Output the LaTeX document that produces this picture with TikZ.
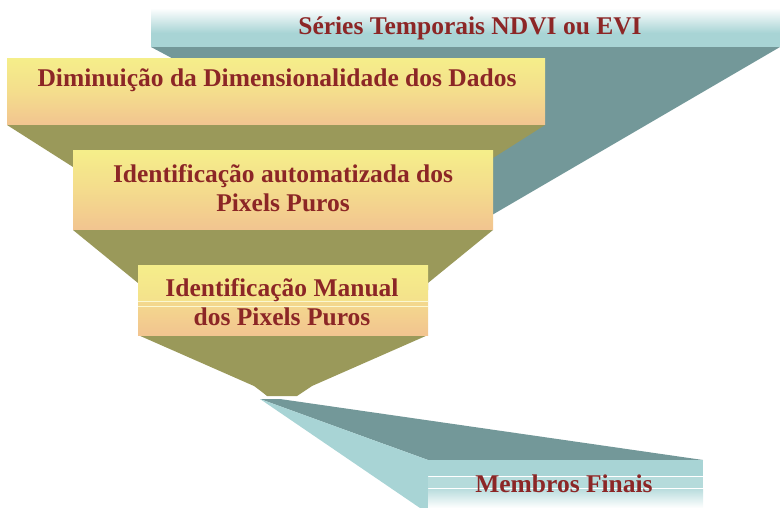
\documentclass[tikz,border=0pt]{standalone}
\usepackage{fontspec}
\setmainfont{Liberation Serif}
\definecolor{tealD}{HTML}{739899}
\definecolor{tealL}{HTML}{A8D4D5}
\definecolor{olive}{HTML}{9A995A}
\definecolor{yel}{HTML}{F5EE8A}
\definecolor{peach}{HTML}{F2C490}
\definecolor{txt}{HTML}{8C2626}
\tikzset{
  lbl/.style={text=txt, font=\fontsize{25.5}{28.5}\selectfont\bfseries, align=center, inner sep=0pt},
}
\begin{document}
\begin{tikzpicture}[x=1pt,y=-1pt]
\useasboundingbox (0,0) rectangle (780,508);
% top teal funnel
\fill[tealD] (151,47) -- (780,47) -- (480,222) -- cycle;
\shade[top color=white, bottom color=tealL] (151,8) rectangle (780,33);
\fill[tealL] (151,33) rectangle (780,47);
\node[lbl] (series) at (470,28) {Séries Temporais NDVI ou EVI};
% olive funnels
\fill[olive] (7,125) -- (545,125) -- (493,158) -- (493,180) -- (73,180) -- (73,167) -- cycle;
\fill[olive] (73,230) -- (493,230) -- (428,283) -- (428,290) -- (138,290) -- (138,283) -- cycle;
\fill[olive] (138,335) -- (428,335) -- (312,386) -- (300,394) -- (297,396) -- (267,396) -- (262,392) -- (254,386) -- cycle;
% box 1
\shade[top color=yel, bottom color=peach, middle color=yel!60!peach] (7,59) rectangle (545,125);
\node[lbl] (dimin) at (277,80) {Diminuição da Dimensionalidade dos Dados};
% box 2
\shade[top color=yel, bottom color=peach, middle color=yel!55!peach] (73,151) rectangle (493,230);
\node[lbl] (auto) at (283,188) {Identificação automatizada dos\\Pixels Puros};
% box 3
\shade[top color=yel, bottom color=yel!70!peach] (138,265) rectangle (428,301);
\shade[top color=yel!50!peach, bottom color=peach] (138,301) rectangle (428,335);
\draw[white!60!yel, line width=0.8pt] (138,301) -- (428,301);
\draw[white!60!yel, line width=0.8pt] (138,306) -- (428,306);
\node[lbl] (manual) at (282,302) {Identificação Manual\\dos Pixels Puros};
% bottom teal slab
\fill[tealD] (260,399) -- (280,399) -- (703,460) -- (428,460) -- cycle;
\fill[tealL] (260,399) -- (428,460) -- (428,508) -- (420,508) -- cycle;
\fill[tealL] (428,460) rectangle (703,476);
\fill[tealL!85!white] (428,477) rectangle (703,488);
\shade[top color=tealL!80!white, bottom color=white] (428,489) rectangle (703,508);
\node[lbl] (membros) at (564,484) {Membros Finais};
\end{tikzpicture}
\end{document}
